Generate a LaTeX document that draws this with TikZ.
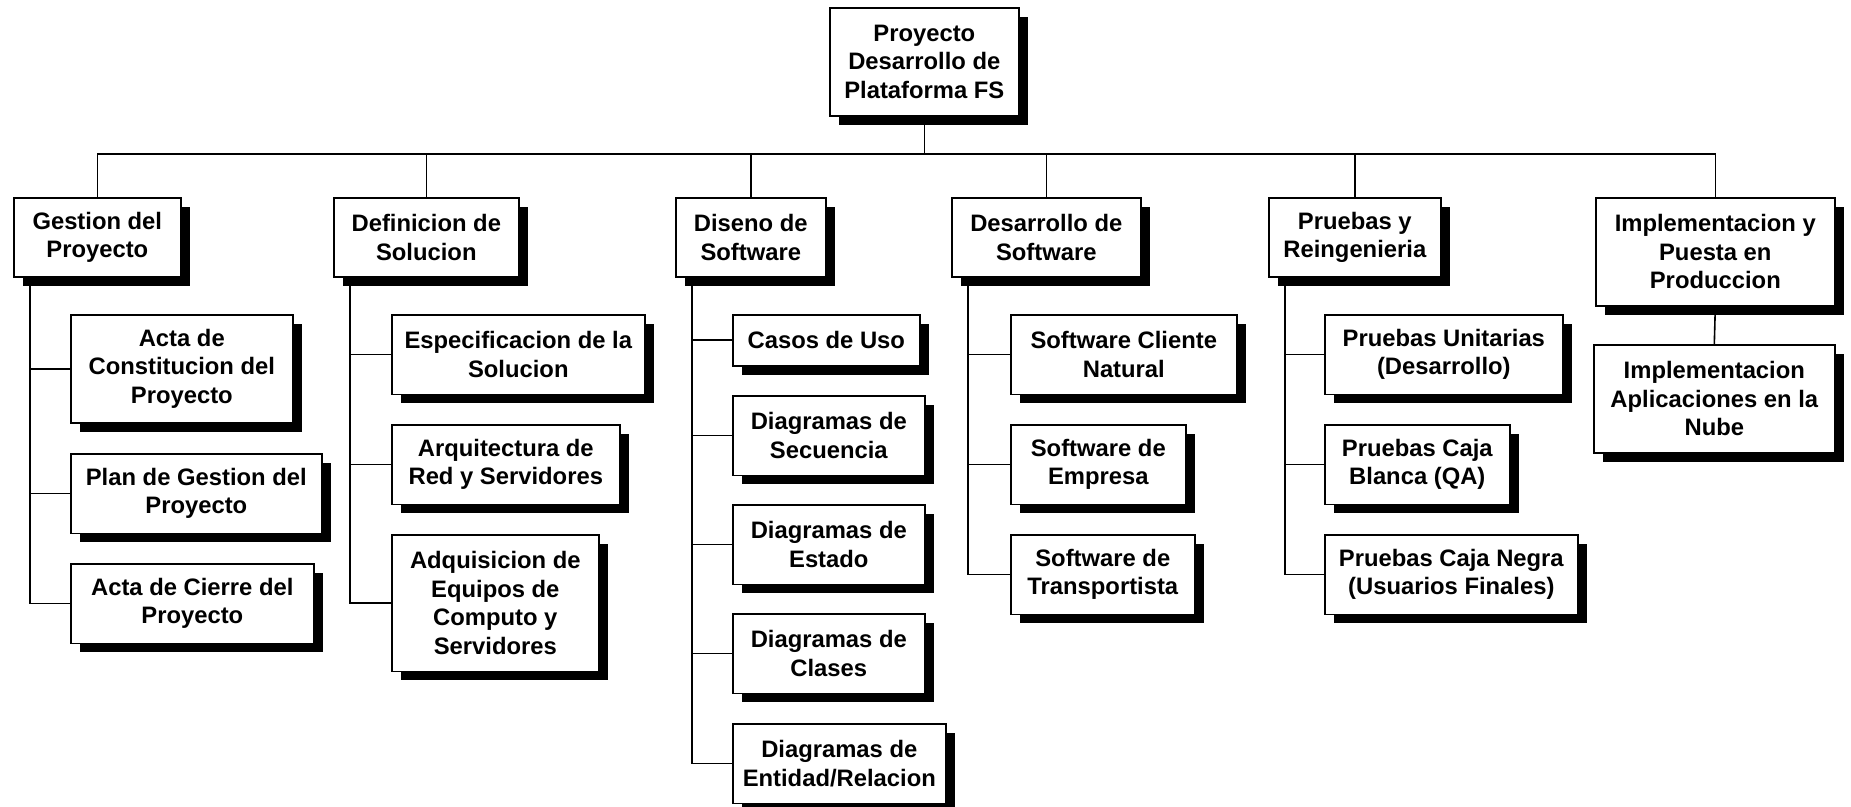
\documentclass[tikz,border=0pt]{standalone}
\usepackage{fontspec}
\setmainfont{Liberation Sans}
\usetikzlibrary{shadows}
\tikzset{
  wbs/.style={draw,fill=white,anchor=north west,align=center,
    font=\bfseries\fontsize{11.9}{14.25}\selectfont,inner xsep=3pt,inner ysep=1pt,
    drop shadow={shadow xshift=4.5pt,shadow yshift=-4.5pt,fill=black,opacity=1}},
  rows/.style={minimum height=11.25pt+#1*14.25pt}
}
\begin{document}
\begin{tikzpicture}[x=0.5pt,y=0.5pt,line width=0.8pt]
\useasboundingbox (0,0) rectangle (1851,-807);
\def\boxes{
root/829/7/189/3/{Proyecto\\Desarrollo de\\Plataforma FS},
gest/13/197/167/2/{Gestion del\\Proyecto},
defi/333/197/185/2/{Definicion de\\Solucion},
dise/675/197/150/2/{Diseno de\\Software},
desa/951/197/189/2/{Desarrollo de\\Software},
prue/1268/197/172/2/{Pruebas y\\Reingenieria},
impl/1595/197/239/3/{Implementacion y\\Puesta en\\Produccion},
gest1/70/314/222/3/{Acta de\\Constitucion del\\Proyecto},
gest2/70/453/251/2/{Plan de Gestion del\\Proyecto},
gest3/70/563/243/2/{Acta de Cierre del\\Proyecto},
defi1/391/314/253/2/{Especificacion de la\\Solucion},
defi2/391/424/228/2/{Arquitectura de\\Red y Servidores},
defi3/391/534/207/4/{Adquisicion de\\Equipos de\\Computo y\\Servidores},
dise1/732/314/187/1/{Casos de Uso},
dise2/732/395/192/2/{Diagramas de\\Secuencia},
dise3/732/504/192/2/{Diagramas de\\Estado},
dise4/732/613/192/2/{Diagramas de\\Clases},
dise5/732/723/213/2/{Diagramas de\\Entidad/Relacion},
desa1/1010/314/226/2/{Software Cliente\\Natural},
desa2/1010/424/175/2/{Software de\\Empresa},
desa3/1010/534/184/2/{Software de\\Transportista},
prue1/1324/314/238/2/{Pruebas Unitarias\\(Desarrollo)},
prue2/1324/424/185/2/{Pruebas Caja\\Blanca (QA)},
prue3/1324/534/253/2/{Pruebas Caja Negra\\(Usuarios Finales)},
impl1/1593/344/241/3/{Implementacion\\Aplicaciones en la\\Nube}}
\foreach \nm/\x/\y/\w/\r/\txt in \boxes
  \node[wbs,rows=\r,minimum width=0.5pt*\w] (\nm) at (\x,-\y) {\txt};
\coordinate (bar) at (923,-154);
\foreach \c in {gest,defi,dise,desa,prue,impl}
  \draw (root.south) |- (bar -| \c.north) -- (\c.north);
\foreach \p/\k in {gest/3,defi/3,dise/5,desa/3,prue/3}
  \foreach \i in {1,...,\k}
    \draw ([xshift=8.5pt]\p.south west) |- (\p\i.west);
\draw (impl.south) -- (impl1.north);
\end{tikzpicture}
\end{document}
